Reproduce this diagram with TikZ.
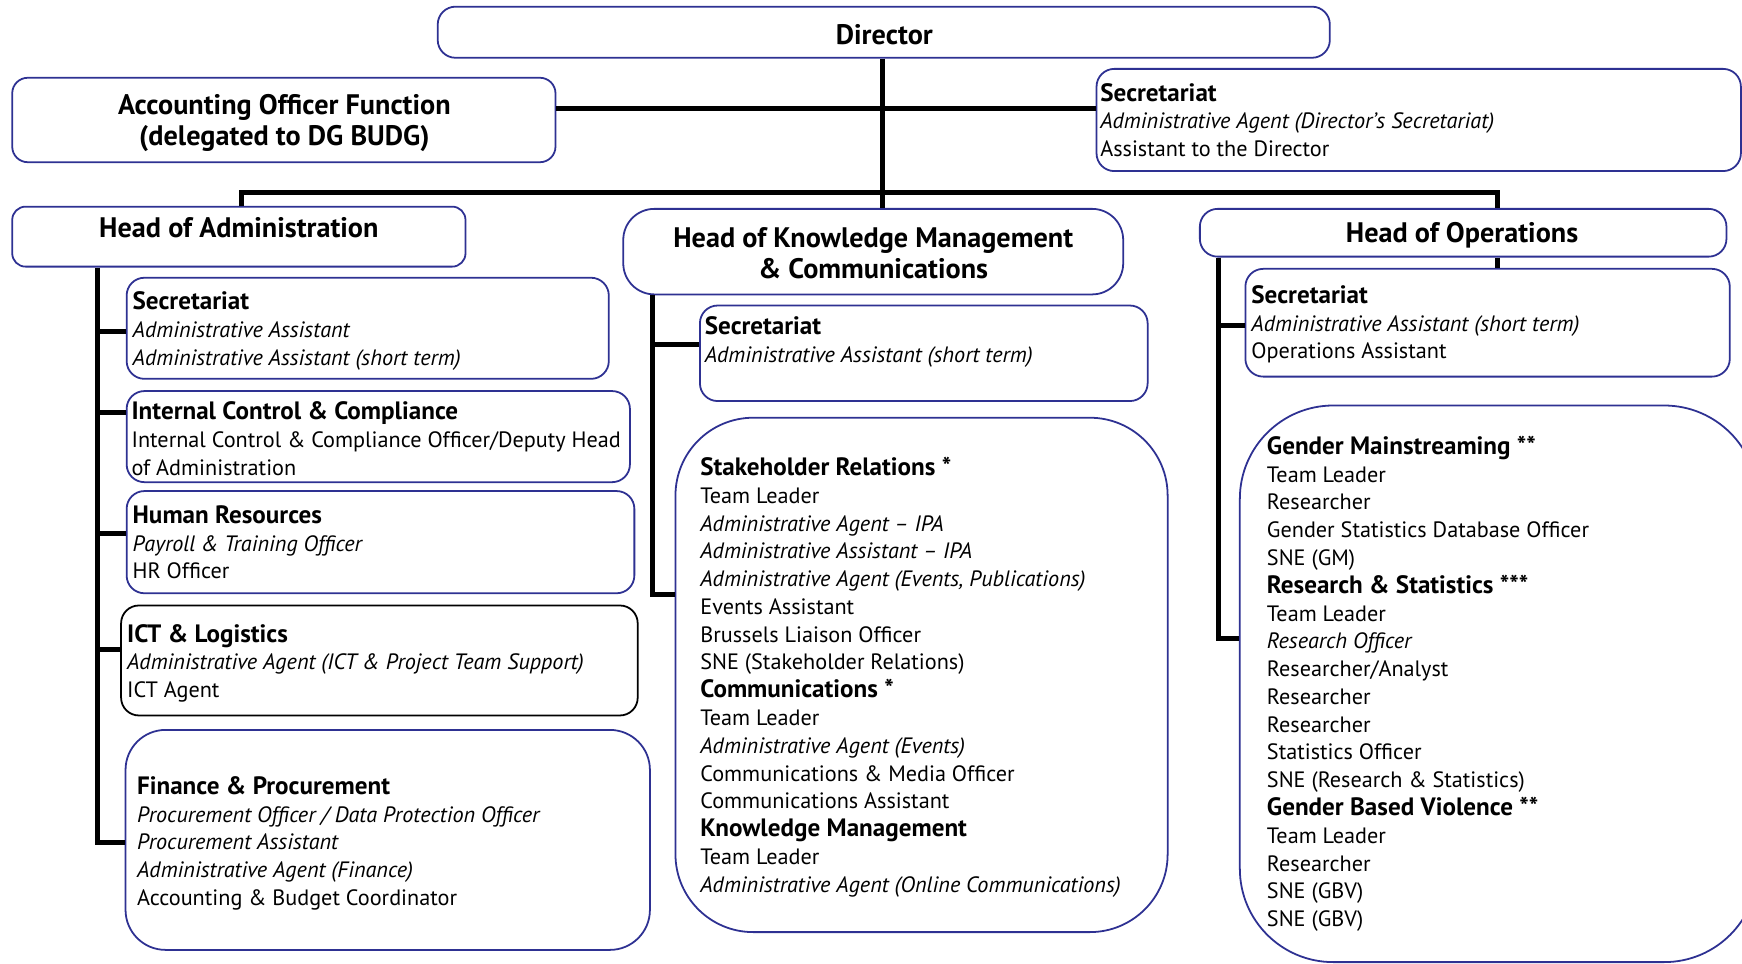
\documentclass[tikz,border=0pt]{standalone}
\usepackage{fontspec}
\setmainfont{PT Sans}
\usetikzlibrary{fit}
\definecolor{bx}{RGB}{46,49,146}
\newcommand{\rows}[1]{\begin{tabular}[t]{@{}l@{}}#1\end{tabular}}
\newcommand{\hd}[1]{{\fontsize{11.3}{12.5}\selectfont\bfseries #1}}
\begin{document}
\begin{tikzpicture}[x=0.5pt,y=-0.5pt,
 box/.style={draw=bx, line width=0.8pt, inner sep=0pt, rounded corners=#1},
 box/.default=7pt,
 conn/.style={line width=2.3pt, line join=miter},
 head/.style={font=\fontsize{12.7}{14}\selectfont\bfseries, align=center, inner sep=0pt},
 body/.style={font=\fontsize{10}{12.5}\selectfont, anchor=base west, inner sep=0pt},
]
\useasboundingbox (0,0) rectangle (1568,867);
\fill[white] (0,0) rectangle (1568,867);
\clip (0,0) rectangle (1568,867);

% top level boxes
\node[box=8pt, fit={(394,6)(1197,52)}] (dir) {};
\node[head] (dirt) at (796,31) {Director};
\node[box=7pt, fit={(11,70)(500,146)}] (acc) {};
\node[head] (acct) at (256,111) {Accounting Officer Function\\(delegated to DG BUDG)};
\node[box=8pt, fit={(987,62)(1567,154)}] (dsec) {};
\node[body] (dsect) at (990,91) {\rows{\hd{Secretariat}\\ \textit{Administrative Agent (Director’s Secretariat)}\\ Assistant to the Director}};

% heads
\node[box=6pt, fit={(11,186)(419,240)}] (hadm) {};
\node[head] (hadmt) at (215,205) {Head of Administration};
\node[box=14pt, fit={(561,188)(1011,265)}] (km) {};
\node[head] (kmt) at (786,228) {Head of Knowledge Management\\\& Communications};
\node[box=8pt, fit={(1080,188)(1554,231)}] (ops) {};
\node[head] (opst) at (1316,212) {Head of Operations};

% administration column
\node[box=8pt, fit={(114,250)(548,341)}] (asec) {};
\node[body] (asect) at (119,279) {\rows{\hd{Secretariat}\\ \textit{Administrative Assistant}\\ \textit{Administrative Assistant (short term)}}};
\node[box=8pt, fit={(114,352)(567,434)}] (aicc) {};
\node[body] (aicct) at (118,378) {\rows{\hd{Internal Control \& Compliance}\\ Internal Control \& Compliance Officer/Deputy Head\\ of Administration}};
\node[box=8pt, fit={(114,442)(571,534)}] (ahr) {};
\node[body] (ahrt) at (119,471) {\rows{\hd{Human Resources}\\ \textit{Payroll \& Training Officer}\\ HR Officer}};
\node[box=8pt, draw=black, fit={(109,545)(574,644)}] (aict) {};
\node[body] (aictt) at (114,578) {\rows{\hd{ICT \& Logistics}\\ \textit{Administrative Agent (ICT \& Project Team Support)}\\ ICT Agent}};
\node[box=18pt, fit={(113,657)(585,855)}] (afin) {};
\node[body] (afint) at (123,715) {\rows{\hd{Finance \& Procurement}\\ \textit{Procurement Officer / Data Protection Officer}\\ \textit{Procurement Assistant}\\ \textit{Administrative Agent (Finance)}\\ Accounting \& Budget Coordinator}};

% knowledge management column
\node[box=8pt, fit={(630,275)(1033,361)}] (ksec) {};
\node[body] (ksect) at (634,301) {\rows{\hd{Secretariat}\\ \textit{Administrative Assistant (short term)}}};
\node[box=35pt, fit={(608,376)(1051,839)}] (kbig) {};
\node[body] (kbigt) at (630,428) {\rows{\hd{Stakeholder Relations *}\\ Team Leader\\ \textit{Administrative Agent – IPA}\\ \textit{Administrative Assistant – IPA}\\ \textit{Administrative Agent (Events, Publications)}\\ Events Assistant\\ Brussels Liaison Officer\\ SNE (Stakeholder Relations)\\ \hd{Communications *}\\ Team Leader\\ \textit{Administrative Agent (Events)}\\ Communications \& Media Officer\\ Communications Assistant\\ \hd{Knowledge Management}\\ Team Leader\\ \textit{Administrative Agent (Online Communications)}}};

% operations column
\node[box=8pt, fit={(1121,242)(1557,339)}] (osec) {};
\node[body] (osect) at (1126,273) {\rows{\hd{Secretariat}\\ \textit{Administrative Assistant (short term)}\\ Operations Assistant}};
\node[box=42pt, fit={(1116,365)(1582,866)}] (obig) {};
\node[body] (obigt) at (1140,409) {\rows{\hd{Gender Mainstreaming **}\\ Team Leader\\ Researcher\\ Gender Statistics Database Officer\\ SNE (GM)\\ \hd{Research \& Statistics ***}\\ Team Leader\\ \textit{Research Officer}\\ Researcher/Analyst\\ Researcher\\ Researcher\\ Statistics Officer\\ SNE (Research \& Statistics)\\ \hd{Gender Based Violence **}\\ Team Leader\\ Researcher\\ SNE (GBV)\\ SNE (GBV)}};

% connectors
\coordinate (jacc) at (794,98);
\coordinate (jbar) at (794,173);
\coordinate (jbarL) at (217,173);
\coordinate (jbarR) at (1348,173);
\draw[conn] (dir.south -| jacc) -- (jacc |- km.north);
\draw[conn] (acc.east |- jacc) -- (dsec.west |- jacc);
\draw[conn] (jbarL |- hadm.north) -- (jbarL) -- (jbarR) -- (jbarR |- ops.north);
\draw[conn] (jbarR |- ops.south) -- (jbarR |- osec.north);

\coordinate (aS) at (88,298);
\coordinate (aI) at (88,371);
\coordinate (aH) at (88,480);
\coordinate (aC) at (88,585);
\coordinate (aF) at (88,758);
\draw[conn] (aF |- hadm.south) -- (aF) -- (aF -| afin.west);
\draw[conn] (aS) -- (aS -| asec.west);
\draw[conn] (aI) -- (aI -| aicc.west);
\draw[conn] (aH) -- (aH -| ahr.west);
\draw[conn] (aC) -- (aC -| aict.west);

\coordinate (kS) at (587,310);
\coordinate (kB) at (587,535);
\draw[conn] (kB |- km.south) -- (kB) -- (kB -| kbig.west);
\draw[conn] (kS) -- (kS -| ksec.west);

\coordinate (oS) at (1097,293);
\coordinate (oB) at (1097,575);
\draw[conn] (oB |- ops.south) -- (oB) -- (oB -| obig.west);
\draw[conn] (oS) -- (oS -| osec.west);
\end{tikzpicture}
\end{document}
